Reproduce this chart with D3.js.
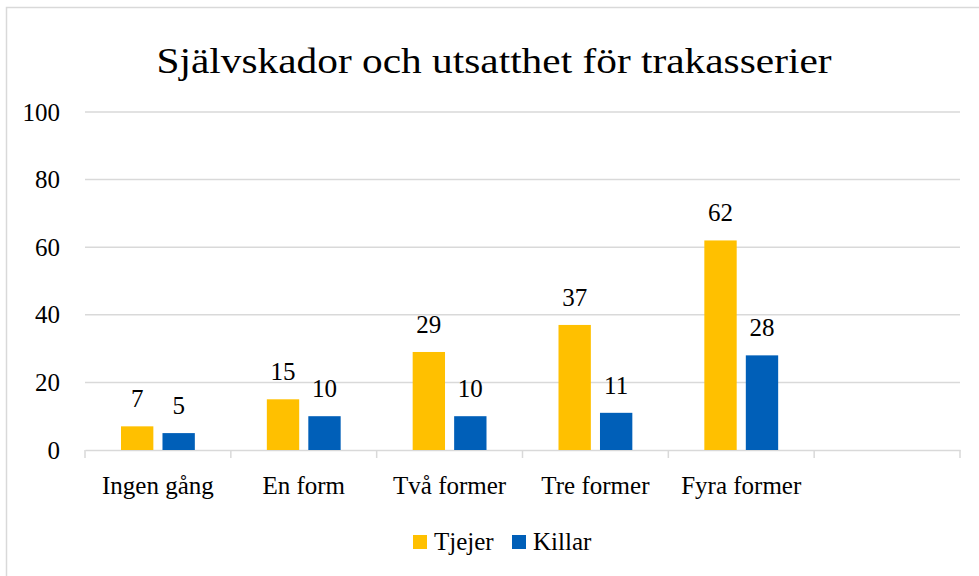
<!DOCTYPE html>
<html>
<head>
<meta charset="utf-8">
<script src="https://cdn.jsdelivr.net/npm/d3@7"></script>
<style>
  body { margin: 0; background: #fff; }
  text { font-family: "Liberation Serif", "DejaVu Serif", serif; fill: #000; }
</style>
</head>
<body>
<div id="chart"></div>
<script>
// chart data
var categories = ["Ingen gång", "En form", "Två former", "Tre former", "Fyra former", ""];
var seriesNames = ["Tjejer", "Killar"];
var tjejer = [7, 15, 29, 37, 62];
var killar = [5, 10, 10, 11, 28];
var yTicks = [0, 20, 40, 60, 80, 100];

var colors = ["#ffc000", "#005fb8"];

var svgWidth = 979;
var svgHeight = 576;

var margin = { top: 112, right: 19, bottom: 126, left: 85 };
var chartWidth = svgWidth - margin.left - margin.right;
var chartHeight = svgHeight - margin.top - margin.bottom;

var svg = d3.select("#chart")
    .append("svg")
    .attr("width", svgWidth)
    .attr("height", svgHeight);

// outer border
svg.append("rect")
    .attr("x", 6.5)
    .attr("y", 7.5)
    .attr("width", svgWidth + 10)
    .attr("height", svgHeight + 10)
    .attr("fill", "none")
    .attr("stroke", "#d9d9d9")
    .attr("stroke-width", 1.5);

// title
svg.append("text")
    .attr("x", 494)
    .attr("y", 73)
    .attr("text-anchor", "middle")
    .attr("font-size", "36px")
    .attr("textLength", 675)
    .attr("lengthAdjust", "spacingAndGlyphs")
    .text("Självskador och utsatthet för trakasserier");

var chartGroup = svg.append("g")
    .attr("transform", `translate(${margin.left}, ${margin.top})`);

var xScale = d3.scaleBand()
    .domain(d3.range(categories.length))
    .range([0, chartWidth]);

var xInner = d3.scaleBand()
    .domain(seriesNames)
    .range([36, xScale.bandwidth() - 36])
    .paddingInner(0.22);

var yScale = d3.scaleLinear()
    .domain([0, 100])
    .range([chartHeight, 0]);

// gridlines
chartGroup.append("g")
    .selectAll("line")
    .data(yTicks.slice(1))
    .enter()
    .append("line")
    .attr("x1", 0)
    .attr("x2", chartWidth)
    .attr("y1", d => yScale(d))
    .attr("y2", d => yScale(d))
    .attr("stroke", "#d9d9d9")
    .attr("stroke-width", 1.5);

// y axis labels
var leftAxis = d3.axisLeft(yScale)
    .tickValues(yTicks)
    .tickSize(0)
    .tickPadding(25);

chartGroup.append("g")
    .call(leftAxis)
    .call(g => g.select(".domain").remove())
    .selectAll("text")
    .attr("font-size", "25px");

// x axis
var bottomAxis = d3.axisBottom(xScale)
    .tickFormat(i => categories[i])
    .tickSize(0)
    .tickPadding(26);

var xAxisG = chartGroup.append("g")
    .attr("transform", `translate(0, ${chartHeight})`)
    .call(bottomAxis);

xAxisG.select(".domain")
    .attr("stroke", "#d9d9d9")
    .attr("stroke-width", 1.5);

xAxisG.selectAll("text")
    .attr("font-size", "25px");

// category separator ticks
xAxisG.append("g")
    .selectAll("line")
    .data(d3.range(categories.length + 1))
    .enter()
    .append("line")
    .attr("x1", i => i * xScale.step())
    .attr("x2", i => i * xScale.step())
    .attr("y1", 0)
    .attr("y2", 8)
    .attr("stroke", "#d9d9d9")
    .attr("stroke-width", 1.5);

// bars
var seriesData = [tjejer, killar];

seriesNames.forEach(function (name, s) {
    var g = chartGroup.append("g");
    g.selectAll("rect")
        .data(seriesData[s])
        .enter()
        .append("rect")
        .attr("x", (d, i) => xScale(i) + xInner(name))
        .attr("y", d => yScale(d))
        .attr("width", xInner.bandwidth())
        .attr("height", d => chartHeight - yScale(d))
        .attr("fill", colors[s]);

    g.selectAll("text")
        .data(seriesData[s])
        .enter()
        .append("text")
        .attr("x", (d, i) => xScale(i) + xInner(name) + xInner.bandwidth() / 2)
        .attr("y", d => yScale(d) - 19)
        .attr("text-anchor", "middle")
        .attr("font-size", "25px")
        .text(d => d);
});

// legend
var legendItems = [
    { name: "Tjejer", x: 413 },
    { name: "Killar", x: 512 }
];

var legend = svg.append("g");
legendItems.forEach(function (item, s) {
    legend.append("rect")
        .attr("x", item.x)
        .attr("y", 535)
        .attr("width", 14)
        .attr("height", 14)
        .attr("fill", colors[s]);
    legend.append("text")
        .attr("x", item.x + 21)
        .attr("y", 550)
        .attr("font-size", "25px")
        .text(item.name);
});
</script>
</body>
</html>
